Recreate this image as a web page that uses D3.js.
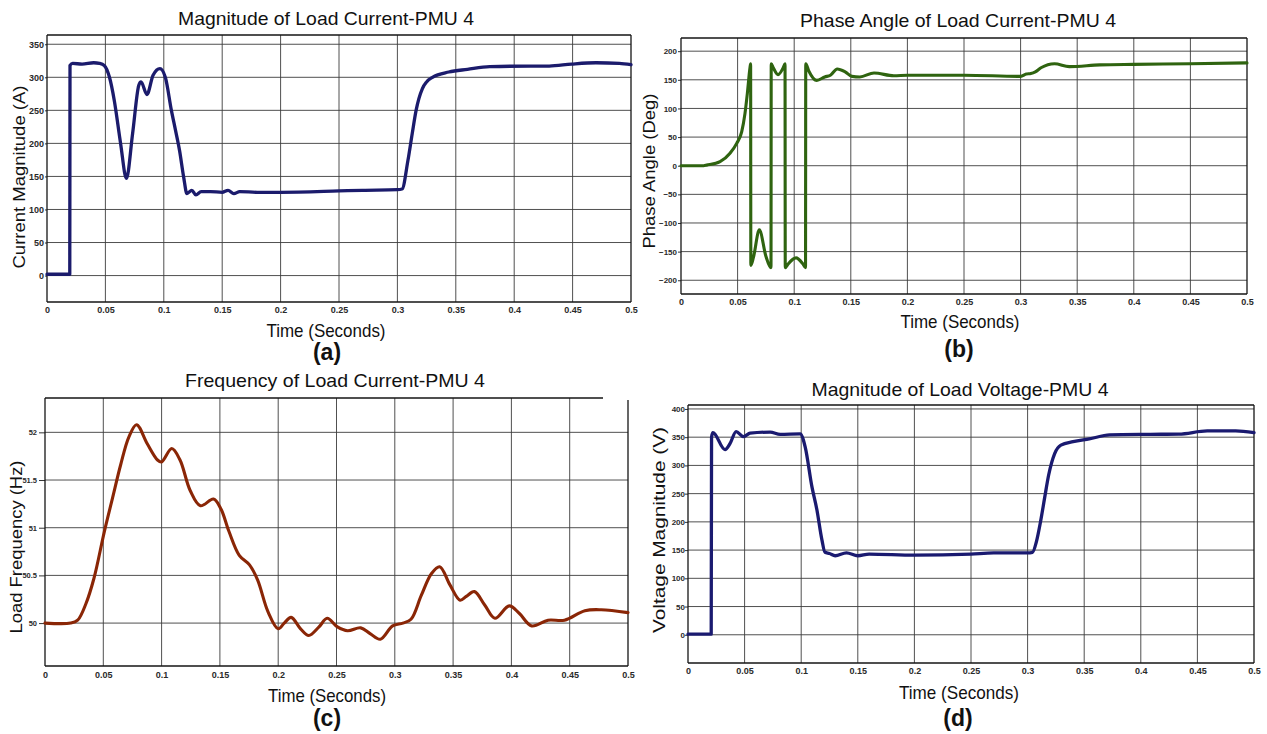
<!DOCTYPE html>
<html>
<head>
<meta charset="utf-8">
<script src="https://cdn.jsdelivr.net/npm/d3@7"></script>
<style>
  html, body { margin: 0; padding: 0; background: #fff; }
  svg { display: block; }
</style>
</head>
<body>
<svg id="chart" width="1267" height="734"></svg>
<script>
// ---- Shared time axis ticks (seconds) ----
const timeTicks = [0, 0.05, 0.1, 0.15, 0.2, 0.25, 0.3, 0.35, 0.4, 0.45, 0.5];
const timeTickLabels = ["0", "0.05", "0.1", "0.15", "0.2", "0.25", "0.3", "0.35", "0.4", "0.45", "0.5"];

// ---- (a) Magnitude of load current ----
const currentTime = [0, 0.0195, 0.0197, 0.022, 0.03, 0.04, 0.045, 0.049, 0.0535, 0.0576, 0.063, 0.068,
  0.0733, 0.0786, 0.0805, 0.0856, 0.0908, 0.0967, 0.1013, 0.1065, 0.110, 0.1135, 0.117, 0.1198, 0.124,
  0.1275, 0.132, 0.14, 0.15, 0.155, 0.16, 0.165, 0.18, 0.2, 0.25, 0.27, 0.3, 0.304, 0.309, 0.3127, 0.316,
  0.3214, 0.325, 0.330, 0.344, 0.36, 0.379, 0.414, 0.43, 0.449, 0.47, 0.49, 0.5];
const currentMag = [2, 2, 318, 321, 320, 322, 321, 318, 300, 265, 200, 147,
  215, 288, 293, 274, 303, 313, 300, 250, 220, 189, 149, 124, 129,
  122, 127, 127, 126, 129, 124, 127, 126, 126, 128, 129, 130, 131, 174, 215, 250,
  283, 293, 300, 308, 312, 316, 317, 317, 320, 322, 321, 319];
const currentTicks = [0, 50, 100, 150, 200, 250, 300, 350];

// ---- (b) Phase angle of load current ----
const phaseTime = [0, 0.02, 0.0227, 0.0345, 0.0433, 0.0492, 0.0536, 0.0565, 0.0586, 0.061, 0.0615,
  0.0617, 0.0640, 0.0692, 0.075, 0.0795, 0.0797, 0.0815, 0.0857, 0.0905, 0.0919, 0.0921, 0.0945,
  0.1016, 0.1075, 0.1100, 0.1102, 0.1130, 0.1199, 0.127, 0.132, 0.138, 0.145, 0.151, 0.158, 0.1705,
  0.188, 0.2, 0.25, 0.3, 0.305, 0.309, 0.313, 0.318, 0.330, 0.343, 0.37, 0.4, 0.45, 0.5];
const phaseAngle = [0, 0, 1, 7, 21.6, 39, 59, 91, 126, 172, 178,
  -174, -160, -112, -158, -178, 178, 171, 159, 172, 178, -178, -172,
  -161, -171, -178, 178, 165, 149, 155, 158, 169, 164, 156, 155, 162,
  157, 158, 158, 156, 160, 161, 164, 171, 178, 173, 176, 177, 178, 179.5];
const phaseTicks = [-200, -150, -100, -50, 0, 50, 100, 150, 200];

// ---- (c) Frequency of load current ----
const freqTime = [0, 0.022, 0.028, 0.035, 0.042, 0.0509, 0.0579, 0.0649, 0.0719, 0.0785, 0.0877, 0.0965,
  0.1, 0.1087, 0.1158, 0.1245, 0.1333, 0.1445, 0.1508, 0.1578, 0.1666, 0.1754, 0.1824, 0.1912, 0.2,
  0.2052, 0.2111, 0.2192, 0.2262, 0.235, 0.242, 0.2508, 0.2595, 0.2708, 0.2788, 0.2876, 0.2981, 0.3069,
  0.3139, 0.3227, 0.3315, 0.3385, 0.3473, 0.356, 0.3613, 0.3683, 0.3771, 0.3859, 0.3981, 0.4069, 0.4174,
  0.4314, 0.4455, 0.463, 0.477, 0.5];
const freqHz = [50, 50, 50.03, 50.2, 50.47, 50.96, 51.31, 51.66, 51.95, 52.08, 51.88, 51.71,
  51.69, 51.83, 51.71, 51.39, 51.23, 51.30, 51.2, 50.96, 50.71, 50.61, 50.45, 50.12, 49.94,
  50.0, 50.06, 49.94, 49.87, 49.96, 50.05, 49.96, 49.92, 49.95, 49.89, 49.83, 49.97, 50.0,
  50.04, 50.29, 50.52, 50.59, 50.40, 50.24, 50.28, 50.33, 50.19, 50.05, 50.18, 50.1, 49.97,
  50.03, 50.03, 50.13, 50.14, 50.11];
const freqTicks = [50, 50.5, 51, 51.5, 52];

// ---- (d) Magnitude of load voltage ----
const voltageTime = [0, 0.0205, 0.0208, 0.022, 0.0327, 0.0372, 0.0425, 0.049, 0.0549, 0.0726, 0.0814,
  0.0991, 0.1035, 0.1095, 0.1139, 0.1183, 0.121, 0.125, 0.13, 0.14, 0.15, 0.16, 0.2, 0.25, 0.27, 0.3,
  0.3043, 0.3078, 0.3114, 0.315, 0.3186, 0.3239, 0.3294, 0.3402, 0.3545, 0.3725, 0.4084, 0.4336,
  0.4587, 0.4838, 0.5];
const voltageMag = [1, 1, 350, 358, 328, 339, 360, 351, 357, 359, 355,
  356, 333, 262, 221, 168, 146, 144, 140, 145, 140, 143, 141, 143, 145, 145,
  146, 165, 200, 242, 283, 321, 336, 342, 347, 354, 355, 355.5,
  361, 361, 358];
const voltageTicks = [0, 50, 100, 150, 200, 250, 300, 350, 400];

// ---- Panel layout ----
const panels = [
  { box: [47, 35, 631, 302], yDomain: [-40, 364], t: currentTime, v: currentMag, yTicks: currentTicks,
    color: "#1b1b6c", width: 3.3, curve: d3.curveMonotoneX,
    yTickFont: 9, yTickLen: 2, yTickPad: 1, xTickPad: 5,
    title: "Magnitude of Load Current-PMU 4", titlePos: [326, 25, 296],
    yLabel: "Current Magnitude (A)", yLabelPos: [24.5, 177, 183],
    xLabelPos: [326, 337, 119], tag: "(a)", tagPos: [327, 360] },
  { box: [681, 38, 1247, 294], yDomain: [-224, 223], t: phaseTime, v: phaseAngle, yTicks: phaseTicks,
    color: "#2f6410", width: 3.1, curve: d3.curveMonotoneX,
    yTickFont: 8, yTickLen: 3, yTickPad: 1, xTickPad: 5,
    title: "Phase Angle of Load Current-PMU 4", titlePos: [958, 27, 316],
    yLabel: "Phase Angle (Deg)", yLabelPos: [655, 171, 155],
    xLabelPos: [960, 328, 119], tag: "(b)", tagPos: [959, 357] },
  { box: [45, 398, 628, 666], yDomain: [49.55, 52.36], t: freqTime, v: freqHz, yTicks: freqTicks,
    color: "#8a2606", width: 3.1, curve: d3.curveCatmullRom.alpha(0.5),
    yTickFont: 7.5, yTickLen: 6, yTickPad: 2, xTickPad: 6,
    title: "Frequency of Load Current-PMU 4", titlePos: [335, 387, 300],
    yLabel: "Load Frequency (Hz)", yLabelPos: [21.5, 547, 173],
    xLabelPos: [327, 702, 118], tag: "(c)", tagPos: [327, 726],
    topEnd: 603, rightStart: 400 },
  { box: [688, 405, 1254, 663], yDomain: [-50, 407], t: voltageTime, v: voltageMag, yTicks: voltageTicks,
    color: "#1a1a70", width: 3.3, curve: d3.curveMonotoneX,
    yTickFont: 8, yTickLen: 3, yTickPad: 0, xTickPad: 5,
    title: "Magnitude of Load Voltage-PMU 4", titlePos: [960, 396, 297],
    yLabel: "Voltage Magnitude (V)", yLabelPos: [665, 530, 206],
    xLabelPos: [959, 699, 120], tag: "(d)", tagPos: [958, 726] }
];

const svg = d3.select("#chart");
const fmt = d3.format("~g");
const sans = "Liberation Sans, Arial, sans-serif";

panels.forEach(p => {
  const [x0, y0, x1, y1] = p.box;
  const x = d3.scaleLinear().domain([0, 0.5]).range([x0, x1]);
  const y = d3.scaleLinear().domain(p.yDomain).range([y1, y0]);
  const g = svg.append("g");

  // vertical grid + x tick labels
  const xAxis = d3.axisBottom(x).tickValues(timeTicks)
    .tickFormat((d, i) => timeTickLabels[i]).tickSize(0).tickPadding(p.xTickPad);
  const gx = g.append("g").attr("transform", `translate(0,${y1})`).call(xAxis);
  gx.select(".domain").remove();
  gx.selectAll("text").attr("font-family", sans)
    .attr("font-weight", "bold").attr("font-size", 9).attr("fill", "#2a2a2a");

  g.append("g").selectAll("line").data(timeTicks.filter(d => d > 0 && d < 0.5)).join("line")
    .attr("x1", d => x(d)).attr("x2", d => x(d)).attr("y1", y0).attr("y2", y1)
    .attr("stroke", "#3c3c3c").attr("stroke-width", 0.9);

  // horizontal grid + y tick labels
  const yAxis = d3.axisLeft(y).tickValues(p.yTicks).tickFormat(fmt)
    .tickSize(p.yTickLen).tickPadding(p.yTickPad);
  const gy = g.append("g").attr("transform", `translate(${x0},0)`).call(yAxis);
  gy.select(".domain").remove();
  gy.selectAll("line").attr("stroke", "#333");
  gy.selectAll("text").attr("font-family", sans)
    .attr("font-weight", "bold").attr("font-size", p.yTickFont).attr("fill", "#2a2a2a");

  g.append("g").selectAll("line").data(p.yTicks).join("line")
    .attr("x1", x0).attr("x2", x1).attr("y1", d => y(d)).attr("y2", d => y(d))
    .attr("stroke", "#3c3c3c").attr("stroke-width", 0.9);

  // axes box
  const border = g.append("g").attr("stroke", "#151515").attr("stroke-width", 1.3).attr("fill", "none");
  border.append("line").attr("x1", x0).attr("x2", x0).attr("y1", y0).attr("y2", y1);
  border.append("line").attr("x1", x0).attr("x2", x1).attr("y1", y1).attr("y2", y1);
  border.append("line").attr("x1", x0).attr("x2", p.topEnd || x1).attr("y1", y0).attr("y2", y0);
  border.append("line").attr("x1", x1).attr("x2", x1).attr("y1", p.rightStart || y0).attr("y2", y1);

  // signal trace
  const line = d3.line().x((d, i) => x(p.t[i])).y(d => y(d)).curve(p.curve);
  g.append("path").datum(p.v).attr("d", line)
    .attr("fill", "none").attr("stroke", p.color).attr("stroke-width", p.width)
    .attr("stroke-linejoin", "round").attr("stroke-linecap", "round");

  // titles and labels
  g.append("text").attr("x", p.titlePos[0]).attr("y", p.titlePos[1]).attr("text-anchor", "middle")
    .attr("font-family", sans).attr("font-size", 19).attr("fill", "#111")
    .attr("textLength", p.titlePos[2]).attr("lengthAdjust", "spacingAndGlyphs").text(p.title);

  g.append("text").attr("x", p.xLabelPos[0]).attr("y", p.xLabelPos[1]).attr("text-anchor", "middle")
    .attr("font-family", sans).attr("font-size", 19).attr("fill", "#111")
    .attr("textLength", p.xLabelPos[2]).attr("lengthAdjust", "spacingAndGlyphs").text("Time (Seconds)");

  g.append("text")
    .attr("transform", `translate(${p.yLabelPos[0]},${p.yLabelPos[1]}) rotate(-90)`)
    .attr("text-anchor", "middle").attr("font-family", sans).attr("font-size", 17).attr("fill", "#111")
    .attr("textLength", p.yLabelPos[2]).attr("lengthAdjust", "spacingAndGlyphs").text(p.yLabel);

  g.append("text").attr("x", p.tagPos[0]).attr("y", p.tagPos[1]).attr("text-anchor", "middle")
    .attr("font-family", sans).attr("font-weight", "bold").attr("font-size", 23).attr("fill", "#111")
    .text(p.tag);
});
</script>
</body>
</html>
